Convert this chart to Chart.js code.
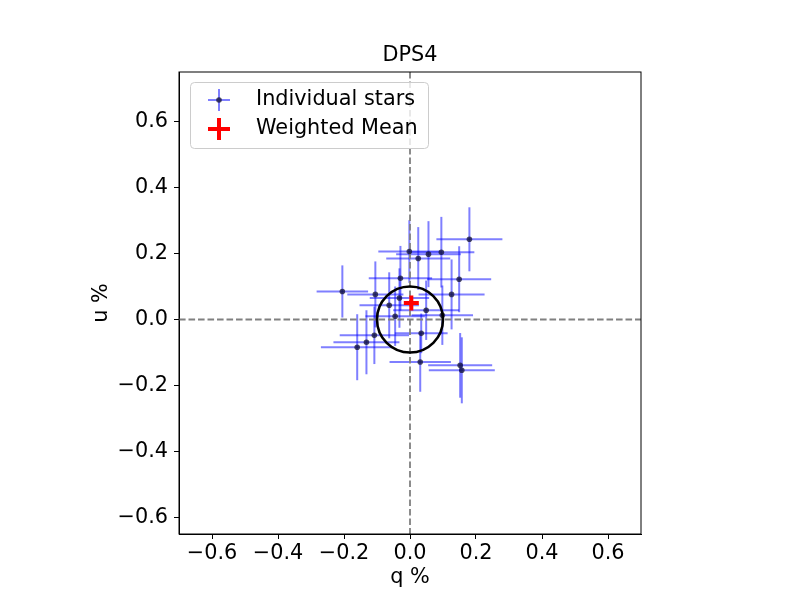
<script src="https://cdn.jsdelivr.net/npm/chart.js@4.4.7/dist/chart.umd.min.js"></script>

<style>
  body {
    margin: 0;
    background: #ffffff;
  }
  .chart-container {
    width: 800px;
    height: 600px;
  }
</style>

<div class="chart-container">
  <canvas id="chart" width="800" height="600"></canvas>
</div>

<script>
  // individual stars (q %, u %) and their errors
  const starQ = [0.180, -0.205, -0.002, 0.025, 0.056, 0.095, -0.029, 0.149, -0.105, 0.126, -0.032, -0.063, 0.049, -0.045, 0.098, -0.108, -0.132, -0.160, 0.034, 0.031, 0.152, 0.157]
  const starU = [0.243, 0.085, 0.206, 0.185, 0.198, 0.204, 0.125, 0.122, 0.076, 0.076, 0.065, 0.043, 0.028, 0.010, 0.013, -0.048, -0.069, -0.084, -0.042, -0.129, -0.139, -0.154]
  const starQErr = [0.100, 0.078, 0.094, 0.097, 0.098, 0.100, 0.096, 0.097, 0.085, 0.100, 0.090, 0.090, 0.100, 0.090, 0.093, 0.105, 0.100, 0.110, 0.080, 0.093, 0.097, 0.100]
  const starUErr = [0.097, 0.079, 0.095, 0.095, 0.100, 0.107, 0.098, 0.100, 0.100, 0.106, 0.090, 0.100, 0.090, 0.090, 0.090, 0.087, 0.097, 0.100, 0.060, 0.090, 0.098, 0.100]

  // weighted mean
  const meanQ = [0.004]
  const meanU = [0.050]

  const circleRadius = 0.1

  const xTicks = [-0.6, -0.4, -0.2, 0.0, 0.2, 0.4, 0.6]
  const yTicks = [-0.6, -0.4, -0.2, 0.0, 0.2, 0.4, 0.6]

  const titleText = 'DPS4'
  const xLabel = 'q %'
  const yLabel = 'u %'
  const legendLabels = ['Individual stars', 'Weighted Mean']

  const FONT = "'DejaVu Sans', sans-serif"
  const FONT_SIZE = 20.8

  const canvas = document.getElementById('chart')

  /*
   * Matplotlib style tick label, with a real minus sign
   */
  function tickLabel(v) {
    const s = Math.abs(v).toFixed(1)
    return v < -1e-9 ? '\u2212' + s : s
  }

  const decor = {
    id: 'decor',
    beforeDatasetsDraw(chart) {
      const ctx = chart.ctx
      const xs = chart.scales.x
      const ys = chart.scales.y
      const area = chart.chartArea
      ctx.save()
      ctx.beginPath()
      ctx.rect(area.left, area.top, area.right - area.left, area.bottom - area.top)
      ctx.clip()

      // error bars
      ctx.strokeStyle = 'rgba(0, 0, 255, 0.5)'
      ctx.lineWidth = 2
      for (let i = 0; i < starQ.length; i++) {
        const px = xs.getPixelForValue(starQ[i])
        const py = ys.getPixelForValue(starU[i])
        ctx.beginPath()
        ctx.moveTo(xs.getPixelForValue(starQ[i] - starQErr[i]), py)
        ctx.lineTo(xs.getPixelForValue(starQ[i] + starQErr[i]), py)
        ctx.stroke()
        ctx.beginPath()
        ctx.moveTo(px, ys.getPixelForValue(starU[i] - starUErr[i]))
        ctx.lineTo(px, ys.getPixelForValue(starU[i] + starUErr[i]))
        ctx.stroke()
      }

      // zero lines
      ctx.strokeStyle = '#808080'
      ctx.lineWidth = 1.8
      ctx.setLineDash([6.6, 2.9])
      const x0 = xs.getPixelForValue(0)
      const y0 = ys.getPixelForValue(0)
      ctx.beginPath()
      ctx.moveTo(x0, area.top)
      ctx.lineTo(x0, area.bottom)
      ctx.stroke()
      ctx.beginPath()
      ctx.moveTo(area.left, y0)
      ctx.lineTo(area.right, y0)
      ctx.stroke()
      ctx.restore()
    },
    afterDatasetDraw(chart, args) {
      if (args.index !== 0) return
      const ctx = chart.ctx
      const xs = chart.scales.x
      const ys = chart.scales.y
      const cx = xs.getPixelForValue(0)
      const cy = ys.getPixelForValue(0)
      const r = xs.getPixelForValue(circleRadius) - cx
      ctx.save()
      ctx.strokeStyle = '#000000'
      ctx.lineWidth = 2.6
      ctx.beginPath()
      ctx.arc(cx, cy, r, 0, Math.PI * 2)
      ctx.stroke()
      ctx.restore()
    },
    afterDraw(chart) {
      const ctx = chart.ctx
      const area = chart.chartArea
      const midX = (area.left + area.right) / 2
      const midY = (area.top + area.bottom) / 2
      ctx.save()

      // frame
      ctx.strokeStyle = '#000000'
      ctx.lineWidth = 1
      ctx.strokeRect(area.left, area.top, area.right - area.left, area.bottom - area.top)

      // title and axis labels
      ctx.fillStyle = '#000000'
      ctx.font = FONT_SIZE + 'px ' + FONT
      ctx.textAlign = 'center'
      ctx.textBaseline = 'middle'
      ctx.fillText(titleText, midX, 56)
      ctx.fillText(xLabel, midX, 578)
      ctx.save()
      ctx.translate(102, midY)
      ctx.rotate(-Math.PI / 2)
      ctx.fillText(yLabel, 0, 0)
      ctx.restore()

      // legend
      const lx = 190.5
      const ly = 82.5
      ctx.fillStyle = 'rgba(255, 255, 255, 0.8)'
      ctx.strokeStyle = '#cccccc'
      ctx.lineWidth = 1
      ctx.beginPath()
      ctx.roundRect(lx, ly, 238, 66, 4)
      ctx.fill()
      ctx.stroke()

      const sx = 219
      const row1 = 100
      const row2 = 129
      ctx.strokeStyle = 'rgba(0, 0, 255, 0.5)'
      ctx.lineWidth = 2
      ctx.beginPath()
      ctx.moveTo(sx - 11, row1)
      ctx.lineTo(sx + 11, row1)
      ctx.moveTo(sx, row1 - 11)
      ctx.lineTo(sx, row1 + 11)
      ctx.stroke()
      ctx.fillStyle = 'rgba(16, 16, 48, 0.75)'
      ctx.beginPath()
      ctx.arc(sx, row1, 2.8, 0, Math.PI * 2)
      ctx.fill()

      ctx.strokeStyle = '#ff0000'
      ctx.lineWidth = 4
      ctx.beginPath()
      ctx.moveTo(sx - 11, row2)
      ctx.lineTo(sx + 11, row2)
      ctx.moveTo(sx, row2 - 11)
      ctx.lineTo(sx, row2 + 11)
      ctx.stroke()

      ctx.fillStyle = '#000000'
      ctx.textAlign = 'left'
      ctx.fillText(legendLabels[0], 256, row1)
      ctx.fillText(legendLabels[1], 256, row2)
      ctx.restore()
    }
  }

  const data = {
    datasets: [
      {
        label: legendLabels[0],
        data: starQ.map((q, i) => ({ x: q, y: starU[i] })),
        pointRadius: 2.8,
        pointBackgroundColor: 'rgba(16, 16, 48, 0.75)',
        pointBorderWidth: 0,
        showLine: false
      },
      {
        label: legendLabels[1],
        data: meanQ.map((q, i) => ({ x: q, y: meanU[i] })),
        pointStyle: 'cross',
        pointRadius: 7.5,
        pointBorderColor: '#ff0000',
        pointBorderWidth: 4,
        showLine: false
      }
    ]
  }

  function axisOptions(min, max, ticks, isX) {
    return {
      type: 'linear',
      position: isX ? 'bottom' : 'left',
      min: min,
      max: max,
      grid: {
        display: true,
        drawOnChartArea: false,
        drawTicks: true,
        tickLength: 5,
        tickWidth: 1,
        tickColor: '#000000'
      },
      border: { display: true, color: '#000000', width: 1 },
      ticks: {
        color: '#000000',
        font: { family: FONT, size: FONT_SIZE },
        padding: isX ? 2 : 6,
        maxRotation: 0,
        autoSkip: false,
        callback: (v) => tickLabel(v)
      },
      afterBuildTicks: (scale) => {
        scale.ticks = ticks.map((v) => ({ value: v }))
      },
      afterFit: (scale) => {
        if (isX) scale.height = 60
        else scale.width = 80
      }
    }
  }

  const config = {
    type: 'scatter',
    data: data,
    options: {
      responsive: false,
      animation: false,
      devicePixelRatio: 1,
      layout: { padding: { left: 99, right: 159, top: 72, bottom: 6 } },
      plugins: {
        legend: { display: false },
        title: { display: false },
        tooltip: { enabled: false }
      },
      scales: {
        x: axisOptions(-0.7, 0.7, xTicks, true),
        y: axisOptions(-0.65, 0.75, yTicks, false)
      }
    },
    plugins: [decor]
  }

  const myChart = new Chart(canvas, config)
</script>
